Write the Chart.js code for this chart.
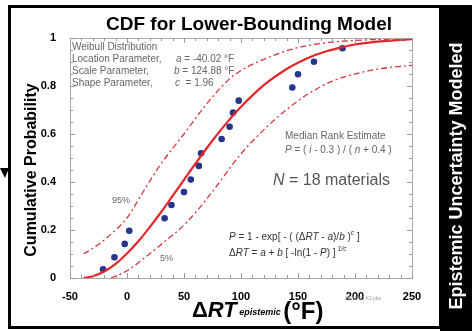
<!DOCTYPE html>
<html><head><meta charset="utf-8">
<script src="https://cdn.jsdelivr.net/npm/chart.js@4.4.0/dist/chart.umd.min.js"></script>
<style>html,body{margin:0;padding:0;background:#fff;overflow:hidden}#wrap{width:472px;height:331px;position:relative}</style>
</head><body><div id="wrap"><canvas id="c" width="472" height="331"></canvas></div>
<script>
// ---- data ----
const xTicks = [-50, 0, 50, 100, 150, 200, 250];
const yTicks = [0, 0.2, 0.4, 0.6, 0.8, 1];
const yTickLabels = ['0', '0.2', '0.4', '0.6', '0.8', '1'];
// Median-rank data points (ΔRT, P)
const deltaRT = [-21, -11, -2, 2, 33, 39, 50, 56, 63, 65, 83, 90, 93, 98, 145, 150, 164, 189];
const probability = [0.036, 0.086, 0.142, 0.197, 0.249, 0.304, 0.358, 0.41, 0.467, 0.52, 0.579, 0.63, 0.689, 0.739, 0.794, 0.849, 0.901, 0.957];
// Weibull fit curve (solid)
const fitX = [-38, -30, -20, -10, 0, 10, 20, 30, 40, 50, 60, 75, 90, 100, 115, 125, 140, 150, 165, 175, 190, 200, 225, 250];
const fitP = [0.0003, 0.007, 0.027, 0.059, 0.102, 0.153, 0.212, 0.275, 0.342, 0.409, 0.476, 0.573, 0.661, 0.714, 0.783, 0.822, 0.871, 0.897, 0.929, 0.945, 0.963, 0.973, 0.987, 0.995];
// 95% bound (dash-dot, upper)
const upperX = [-38, -25, -10, 0, 13, 29, 40, 50, 64, 76, 90, 102, 130, 150, 175, 200, 250];
const upperP = [0.10, 0.14, 0.20, 0.25, 0.35, 0.47, 0.54, 0.60, 0.69, 0.76, 0.83, 0.87, 0.93, 0.96, 0.98, 0.99, 0.998];
// 5% bound (dash-dot, lower)
const lowerX = [-14, 0, 17, 30, 52, 75, 97, 110, 137, 160, 180, 204, 225, 250];
const lowerP = [0.0, 0.03, 0.09, 0.14, 0.23, 0.36, 0.50, 0.57, 0.69, 0.77, 0.82, 0.855, 0.874, 0.886];

const toXY = (xs, ys) => xs.map((x, i) => ({x: x, y: ys[i]}));

const FONT = '"Liberation Sans", Arial, sans-serif';

function runs(ctx, x, y, parts, color) {
  let cx = x;
  ctx.fillStyle = color;
  ctx.textBaseline = 'alphabetic';
  ctx.textAlign = 'left';
  for (const p of parts) {
    ctx.font = p.f;
    ctx.fillText(p.t, cx, y + (p.dy || 0));
    cx += ctx.measureText(p.t).width;
  }
}

const decor = {
  id: 'decor',
  beforeDraw(chart) {
    const ctx = chart.ctx;
    ctx.save();
    ctx.fillStyle = '#fff';
    ctx.fillRect(0, 0, 472, 331);
    // right black band
    ctx.fillStyle = '#000';
    ctx.fillRect(440, 5, 32, 326);
    // outer frame
    ctx.strokeStyle = '#000';
    ctx.lineWidth = 3;
    ctx.strokeRect(9.5, 6.5, 431, 321);
    // small arrow head at left
    ctx.beginPath();
    ctx.moveTo(0, 168); ctx.lineTo(9, 168); ctx.lineTo(5, 178); ctx.closePath();
    ctx.fill();
    ctx.restore();
  },
  afterDraw(chart) {
    const ctx = chart.ctx;
    const a = chart.chartArea;
    const xs = chart.scales.x, ys = chart.scales.y;
    ctx.save();
    // plot border
    ctx.strokeStyle = '#aaa';
    ctx.lineWidth = 1;
    ctx.strokeRect(Math.round(a.left) + 0.5, Math.round(a.top) + 0.5, Math.round(a.right - a.left), Math.round(a.bottom - a.top));
    // inner minor/major ticks
    ctx.strokeStyle = '#999';
    ctx.beginPath();
    for (let v = -50; v <= 250; v += 10) {
      const px = Math.round(xs.getPixelForValue(v)) + 0.5;
      const L = (v % 50 === 0) ? 5 : 3;
      ctx.moveTo(px, a.bottom); ctx.lineTo(px, a.bottom - L);
      ctx.moveTo(px, a.top); ctx.lineTo(px, a.top + L);
    }
    for (let k = 0; k <= 20; k++) {
      const v = k * 0.05;
      const py = Math.round(ys.getPixelForValue(v)) + 0.5;
      const L = (k % 4 === 0) ? 5 : 3;
      ctx.moveTo(a.left, py); ctx.lineTo(a.left + L, py);
      ctx.moveTo(a.right, py); ctx.lineTo(a.right - L, py);
    }
    ctx.stroke();

    // title
    ctx.fillStyle = '#000';
    ctx.textAlign = 'center';
    ctx.textBaseline = 'alphabetic';
    ctx.font = 'bold 19px ' + FONT;
    ctx.fillText('CDF for Lower-Bounding Model', 249, 30);

    // y axis title
    ctx.save();
    ctx.translate(36, 170);
    ctx.rotate(-Math.PI / 2);
    ctx.font = 'bold 16px ' + FONT;
    ctx.textAlign = 'center';
    ctx.fillText('Cumulative Probability', 0, 0);
    ctx.restore();

    // right band vertical text
    ctx.save();
    ctx.translate(462, 176);
    ctx.rotate(-Math.PI / 2);
    ctx.font = 'bold 18px ' + FONT;
    ctx.textAlign = 'center';
    ctx.fillStyle = '#fff';
    ctx.fillText('Epistemic Uncertainty Modeled', 0, 0);
    ctx.restore();

    // x axis title
    runs(ctx, 192, 317, [
      {t: '\u0394', f: 'bold 22px ' + FONT},
      {t: 'RT', f: 'italic bold 22px ' + FONT},
      {t: ' epistemic ', f: 'italic bold 9px ' + FONT, dy: -2},
      {t: '(\u00b0F)', f: 'bold 24px ' + FONT, dy: 2}
    ], '#000');
    ctx.font = '5px ' + FONT;
    ctx.fillStyle = '#999';
    ctx.textAlign = 'left';
    ctx.fillText('05/15/01 K2 jdw', 345, 300);

    // Weibull parameter block
    const g = '#666';
    const f10 = '10px ' + FONT, fi10 = 'italic 10px ' + FONT;
    runs(ctx, 72, 50, [{t: 'Weibull Distribution', f: f10}], g);
    runs(ctx, 72, 62, [{t: 'Location Parameter,', f: f10}], g);
    runs(ctx, 176, 62, [{t: 'a', f: fi10}, {t: ' = -40.02 \u00b0F', f: f10}], g);
    runs(ctx, 72, 74, [{t: 'Scale Parameter,', f: f10}], g);
    runs(ctx, 174, 74, [{t: 'b', f: fi10}, {t: ' = 124.88 \u00b0F', f: f10}], g);
    runs(ctx, 72, 86, [{t: 'Shape Parameter,', f: f10}], g);
    runs(ctx, 175, 86, [{t: 'c', f: fi10}, {t: '  = 1.96', f: f10}], g);

    // median rank
    runs(ctx, 285, 139, [{t: 'Median Rank Estimate', f: f10}], g);
    runs(ctx, 285, 153, [
      {t: 'P', f: fi10}, {t: ' = ( ', f: f10}, {t: 'i', f: fi10}, {t: ' - 0.3 ) / ( ', f: f10},
      {t: 'n', f: fi10}, {t: ' + 0.4 )', f: f10}], g);

    // N = 18
    runs(ctx, 273, 185, [{t: 'N', f: 'italic 16px ' + FONT}, {t: ' = 18 materials', f: '16px ' + FONT}], '#555');

    // bound labels
    runs(ctx, 112, 203, [{t: '95%', f: '9px ' + FONT}], g);
    runs(ctx, 160, 261, [{t: '5%', f: '9px ' + FONT}], g);

    // equations
    const e = '#333';
    const fe = '10px ' + FONT, fei = 'italic 10px ' + FONT, fes = 'italic 7px ' + FONT;
    runs(ctx, 229, 240, [
      {t: 'P', f: fei}, {t: ' = 1 - exp[ - ( (', f: fe}, {t: '\u0394', f: fe}, {t: 'RT', f: fei},
      {t: ' - ', f: fe}, {t: 'a', f: fei}, {t: ')/', f: fe}, {t: 'b', f: fei}, {t: ' )', f: fe},
      {t: 'c', f: fes, dy: -5}, {t: ' ]', f: fe}], e);
    runs(ctx, 229, 256, [
      {t: '\u0394', f: fe}, {t: 'RT', f: fei}, {t: ' = ', f: fe}, {t: 'a', f: fei}, {t: ' + ', f: fe},
      {t: 'b', f: fei}, {t: ' [ -ln(1 - ', f: fe}, {t: 'P', f: fei}, {t: ') ]', f: fe},
      {t: ' 1/c', f: fes, dy: -5}], e);
    ctx.restore();
  }
};

const red = '#e3262b';
const chart = new Chart(document.getElementById('c'), {
  type: 'scatter',
  data: {
    datasets: [
      {label: '5%', data: toXY(lowerX, lowerP), showLine: true, borderColor: '#d9343c', borderWidth: 1.3,
       borderDash: [6, 3, 2, 3], pointRadius: 0, cubicInterpolationMode: 'monotone', fill: false},
      {label: '95%', data: toXY(upperX, upperP), showLine: true, borderColor: '#d9343c', borderWidth: 1.3,
       borderDash: [6, 3, 2, 3], pointRadius: 0, cubicInterpolationMode: 'monotone', fill: false},
      {label: 'Weibull fit', data: toXY(fitX, fitP), showLine: true, borderColor: red, borderWidth: 2.2,
       pointRadius: 0, cubicInterpolationMode: 'monotone', fill: false},
      {label: 'Data', data: toXY(deltaRT, probability), showLine: false, pointRadius: 3.3,
       pointBackgroundColor: '#26358c', pointBorderColor: '#26358c', pointBorderWidth: 0}
    ]
  },
  options: {
    responsive: false,
    animation: false,
    devicePixelRatio: 1,
    layout: {padding: {left: 0, right: 60, top: 38, bottom: 0}},
    plugins: {legend: {display: false}, tooltip: {enabled: false}, title: {display: false}},
    scales: {
      x: {
        type: 'linear', min: -50, max: 250,
        afterBuildTicks: s => { s.ticks = xTicks.map(v => ({value: v})); },
        ticks: {font: {family: FONT, size: 11, weight: 'bold'}, color: '#000', padding: 4, maxRotation: 0},
        grid: {display: false}, border: {display: false},
        afterFit: s => { s.height = 53; }
      },
      y: {
        type: 'linear', min: 0, max: 1,
        afterBuildTicks: s => { s.ticks = yTicks.map(v => ({value: v})); },
        ticks: {font: {family: FONT, size: 11, weight: 'bold'}, color: '#000', padding: 6,
                callback: (v, i) => yTickLabels[yTicks.indexOf(v)] ?? String(v)},
        grid: {display: false}, border: {display: false},
        afterFit: s => { s.width = 70; }
      }
    }
  },
  plugins: [decor]
});
</script></body></html>
